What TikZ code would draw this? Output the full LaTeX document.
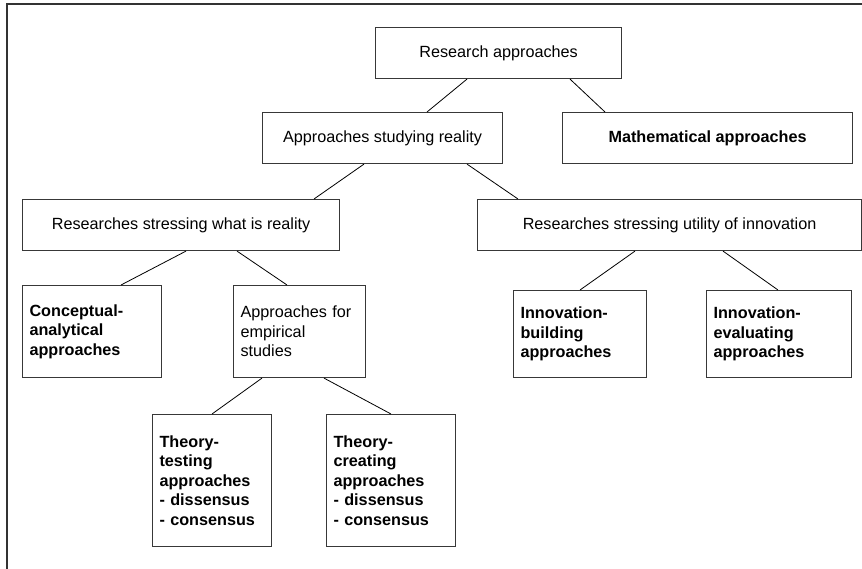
\documentclass[tikz,border=0pt]{standalone}
\usepackage{fontspec}
\setmainfont{Liberation Sans}
\begin{document}
\begin{tikzpicture}[x=1pt,y=-1pt,
  box/.style={draw=black!78, line width=1.1pt, anchor=north west, inner sep=0pt,
    font=\fontsize{16.2}{19.6}\selectfont},
  tallbox/.style={box, align=left, inner xsep=7pt, text width=#1},
  link/.style={draw=black, line width=0.8pt},
  frame/.style={draw=black!80, line width=1.3pt}]
\useasboundingbox (0,0) rectangle (862,569);

% outer frame (open at right and bottom)
\coordinate (fbl) at (7,572);
\coordinate (ftl) at (7,4);
\coordinate (ftr) at (865,4);
\draw[frame] (fbl) -- (ftl) -- (ftr);

% single-line boxes
\node[box, minimum width=246, minimum height=51] (ra)   at (375,27)  {Research approaches};
\node[box, minimum width=240, minimum height=51] (asr)  at (262,112) {Approaches studying reality};
\node[box, minimum width=290, minimum height=51] (math) at (562,112) {\bfseries Mathematical approaches};
\node[box, minimum width=317, minimum height=51] (rsw)  at (22,199)  {Researches stressing what is reality};
\node[box, minimum width=384, minimum height=51] (rsu)  at (477,199) {Researches stressing utility of innovation};

% multi-line boxes
\node[tallbox=125pt, minimum height=92]  (ca)  at (22,285)  {\bfseries Conceptual-\\analytical\\approaches};
\node[tallbox=118pt, minimum height=92]  (aes) at (233,285) {Approaches for\\empirical\\studies};
\node[tallbox=119pt, minimum height=87]  (ib)  at (513,290) {\bfseries Innovation-\\building\\approaches};
\node[tallbox=131pt, minimum height=87]  (ie)  at (706,290) {\bfseries Innovation-\\evaluating\\approaches};
\node[tallbox=105pt, minimum height=132] (tt)  at (152,414) {\bfseries Theory-\\testing\\approaches\\- dissensus\\- consensus};
\node[tallbox=115pt, minimum height=132] (tc)  at (326,414) {\bfseries Theory-\\creating\\approaches\\- dissensus\\- consensus};

% connectors
\draw[link] ([xshift=92pt]ra.south west)   -- ([xshift=165pt]asr.north west);
\draw[link] ([xshift=195pt]ra.south west)  -- ([xshift=43pt]math.north west);
\draw[link] ([xshift=102pt]asr.south west) -- ([xshift=292pt]rsw.north west);
\draw[link] ([xshift=205pt]asr.south west) -- ([xshift=41pt]rsu.north west);
\draw[link] ([xshift=164pt]rsw.south west) -- ([xshift=99pt]ca.north west);
\draw[link] ([xshift=215pt]rsw.south west) -- ([xshift=54pt]aes.north west);
\draw[link] ([xshift=29pt]aes.south west)  -- ([xshift=60pt]tt.north west);
\draw[link] ([xshift=91pt]aes.south west)  -- ([xshift=65pt]tc.north west);
\draw[link] ([xshift=158pt]rsu.south west) -- ([xshift=67pt]ib.north west);
\draw[link] ([xshift=246pt]rsu.south west) -- ([xshift=72pt]ie.north west);
\end{tikzpicture}
\end{document}
